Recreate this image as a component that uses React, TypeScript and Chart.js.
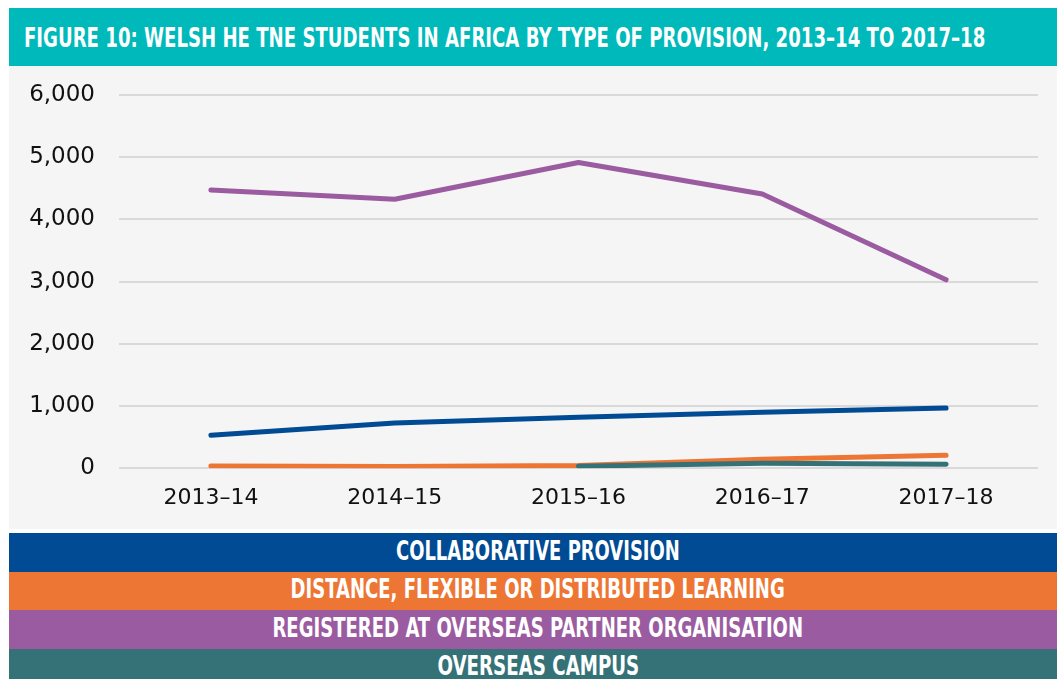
import React, { useEffect, useLayoutEffect, useRef, useState } from "react";
import { Chart, registerables } from "chart.js";

Chart.register(...registerables);

const TITLE = "FIGURE 10: WELSH HE TNE STUDENTS IN AFRICA BY TYPE OF PROVISION, 2013–14 TO 2017–18";
const categories = ["2013–14", "2014–15", "2015–16", "2016–17", "2017–18"];
const collaborative = [530, 730, 820, 900, 970];
const distance = [35, 30, 45, 145, 210];
const registered = [4475, 4325, 4915, 4410, 3030];
const overseasCampus = [null, null, 32, 80, 64];
const yTicks = [0, 1000, 2000, 3000, 4000, 5000, 6000];

const seriesNames = [
  "COLLABORATIVE PROVISION",
  "DISTANCE, FLEXIBLE OR DISTRIBUTED LEARNING",
  "REGISTERED AT OVERSEAS PARTNER ORGANISATION",
  "OVERSEAS CAMPUS",
];
const seriesColors = ["#004B93", "#ED7635", "#9B5BA0", "#357278"];
const legendTextWidths = [284, 494, 531, 202];

const condensedFont = '"Liberation Sans Narrow", "DejaVu Sans Condensed", "Roboto", "Liberation Sans", sans-serif';

function FitText({ text, width, size, origin }: { text: string; width: number; size: number; origin: string }) {
  const ref = useRef<HTMLSpanElement>(null);
  const [scale, setScale] = useState(1);
  useLayoutEffect(() => {
    const w = ref.current ? ref.current.offsetWidth : 0;
    if (w) setScale(width / w);
  }, [text, width]);
  return (
    <span
      ref={ref}
      style={{
        display: "inline-block",
        whiteSpace: "nowrap",
        fontFamily: condensedFont,
        fontStretch: "condensed",
        fontWeight: 700,
        fontSize: size,
        lineHeight: 1,
        color: "#fff",
        transform: `scaleX(${scale})`,
        transformOrigin: origin,
      }}
    >
      {text}
    </span>
  );
}

export default function App() {
  const canvasRef = useRef<HTMLCanvasElement>(null);

  useEffect(() => {
    if (!canvasRef.current) return;
    const values = [collaborative, distance, registered, overseasCampus];
    const orders = [2, 3, 1, 0];
    const chart = new Chart(canvasRef.current, {
      type: "line",
      data: {
        labels: categories,
        datasets: values.map((v, i) => ({
          label: seriesNames[i],
          data: v,
          borderColor: seriesColors[i],
          backgroundColor: seriesColors[i],
          borderWidth: 5,
          borderCapStyle: "round" as const,
          borderJoinStyle: "round" as const,
          pointRadius: 0,
          tension: 0,
          order: orders[i],
          spanGaps: false,
        })),
      },
      options: {
        responsive: false,
        animation: false,
        layout: { padding: { top: 29, right: 29, left: 0, bottom: 0 } },
        plugins: { legend: { display: false }, tooltip: { enabled: false }, title: { display: false } },
        scales: {
          x: {
            offset: true,
            grid: { display: false, drawTicks: false },
            border: { display: false },
            ticks: {
              color: "#111",
              font: { family: '"DejaVu Sans", sans-serif', size: 22 },
              padding: 17,
              maxRotation: 0,
            },
            afterFit: (scale: any) => {
              scale.height = 60.7;
            },
          },
          y: {
            min: 0,
            max: 6000,
            afterBuildTicks: (scale: any) => {
              scale.ticks = yTicks.map((v) => ({ value: v }));
            },
            grid: { color: "#D9D9D9", lineWidth: 2, drawTicks: false },
            border: { display: false },
            ticks: {
              color: "#111",
              font: { family: '"DejaVu Sans", sans-serif', size: 23 },
              padding: 24,
              callback: (v: any) => Number(v).toLocaleString("en-US"),
            },
            afterFit: (scale: any) => {
              scale.width = 110;
              scale.paddingTop = 0;
              scale.paddingBottom = 0;
            },
          },
        },
      },
    });
    return () => chart.destroy();
  }, []);

  return (
    <div style={{ position: "fixed", left: 0, top: 0, width: 1057, height: 679, overflow: "hidden", background: "#fff" }}>
      <div style={{ position: "absolute", left: 9, top: 8, width: 1058 }}>
        <div style={{ position: "relative", height: 58, background: "#00B9BA" }}>
          <div style={{ position: "absolute", left: 15, top: 0, height: 58, display: "flex", alignItems: "center" }}>
            <FitText text={TITLE} width={961} size={27} origin="left center" />
          </div>
        </div>
        <div style={{ height: 463, background: "#F5F5F5" }}>
          <canvas ref={canvasRef} width={1058} height={463} style={{ display: "block", width: 1058, height: 463 }} />
        </div>
        <div style={{ height: 4 }} />
        {seriesNames.map((name, i) => (
          <div
            key={name}
            style={{
              height: 38.5,
              background: seriesColors[i],
              display: "flex",
              alignItems: "center",
              justifyContent: "center",
              paddingBottom: 3,
              boxSizing: "border-box",
            }}
          >
            <FitText text={name} width={legendTextWidths[i]} size={26} origin="center center" />
          </div>
        ))}
      </div>
    </div>
  );
}
